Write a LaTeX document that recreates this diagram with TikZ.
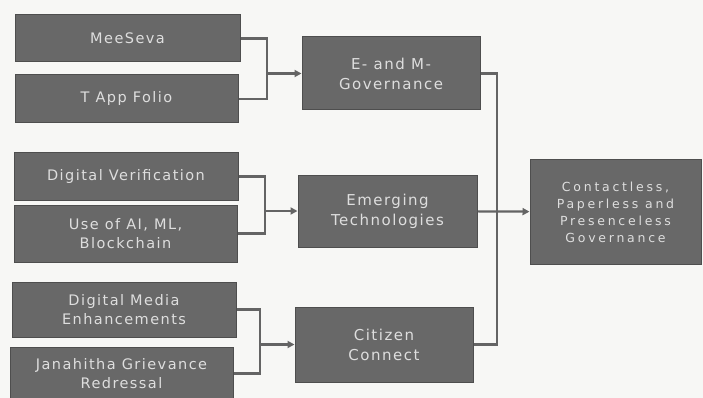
\documentclass[tikz,border=0pt]{standalone}
\usepackage{fontspec}
\setmainfont{DejaVu Sans}[LetterSpace=10]
\newfontfamily\widefont{DejaVu Sans}[LetterSpace=22]
\usetikzlibrary{arrows.meta}
\definecolor{paper}{RGB}{247,247,245}
\definecolor{boxgray}{RGB}{104,104,104}
\definecolor{boxedge}{RGB}{78,78,78}
\definecolor{boxtext}{RGB}{222,222,222}
\definecolor{linkgray}{RGB}{100,100,100}
\tikzset{
	srcbox/.style={draw=boxedge, fill=boxgray, text=boxtext, line width=1pt, align=center, inner sep=0pt, font=\fontsize{14.5}{19}\selectfont},
	midbox/.style={srcbox, font=\fontsize{15}{20}\selectfont},
	link/.style={draw=linkgray, line width=2.2pt},
	feed/.style={link, -{Triangle[length=7pt,width=7pt]}},
}

\begin{document}
\begin{tikzpicture}[x=1pt, y=-1pt]
			\fill[paper] (0,0) rectangle (703,398);
			\useasboundingbox (0,0) rectangle (703,398);
			% left column
			\node[srcbox, minimum width=225pt, minimum height=47pt](ms) at (127.5,38.5){MeeSeva};
			\node[srcbox, minimum width=223pt, minimum height=48pt](tapp) at (126.5,99){T App Folio};
			\node[srcbox, minimum width=224pt, minimum height=47pt](dv) at (126,176.5){Digital Verification};
			\node[srcbox, minimum width=223pt, minimum height=57pt](ai) at (125.5,233.5){Use of AI, ML,\\Blockchain};
			\node[srcbox, minimum width=224pt, minimum height=55pt](dme) at (124,309.5){Digital Media\\Enhancements};
			\node[srcbox, minimum width=223pt, minimum height=53pt](jgr) at (121.5,373.5){Janahitha Grievance\\Redressal};
			% middle column
			\node[midbox, minimum width=178pt, minimum height=73pt](emg) at (391,73.5){E- and M-\\Governance};
			\node[midbox, minimum width=179pt, minimum height=72pt](etech) at (387.5,211){Emerging\\Technologies};
			\node[midbox, minimum width=178pt, minimum height=75pt](cc) at (384,344.5){Citizen\\Connect};
			% goal
			\node[srcbox, minimum width=171pt, minimum height=105pt, font=\widefont\fontsize{12.5}{17}\selectfont](cpg) at (615.5,212){Contactless,\\Paperless and\\Presenceless\\Governance};
			% junctions
			\coordinate (j1) at (267,73.5);
			\coordinate (j2) at (265,211);
			\coordinate (j3) at (260,344.5);
			\coordinate (j4) at (497,211);
			\draw[link] (ms.east) -| (j1) |- (tapp.east);
			\draw[feed] (j1) -- (emg);
			\draw[link] (dv.east) -| (j2) |- (ai.east);
			\draw[feed] (j2) -- (etech);
			\draw[link] (dme.east) -| (j3) |- (jgr.east);
			\draw[feed] (j3) -- (cc);
			\draw[link] (emg.east) -| (j4) |- (cc.east);
			\draw[feed] (etech) -- (cpg);
			\end{tikzpicture}
\end{document}
